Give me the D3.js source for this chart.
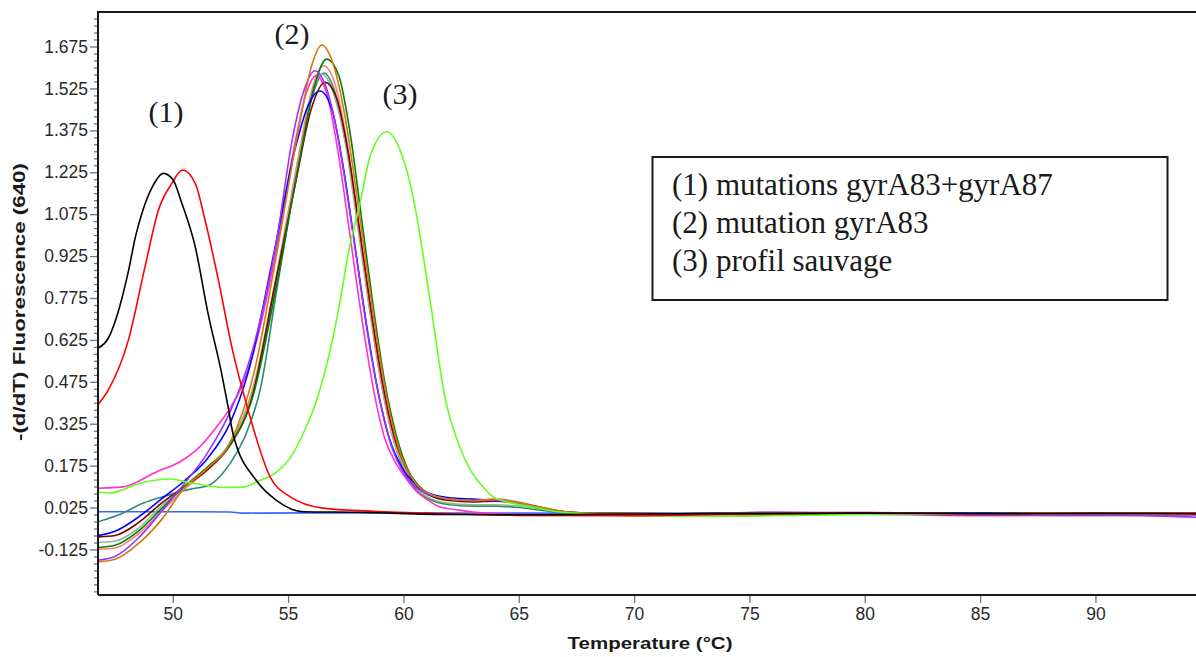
<!DOCTYPE html>
<html><head><meta charset="utf-8">
<script src="https://cdn.jsdelivr.net/npm/d3@7"></script>
<style>body{margin:0;background:#fff}</style>
</head><body>
<svg id="c" width="1196" height="657"></svg>
<script>
// ---- data ----
const xTicks = [50, 55, 60, 65, 70, 75, 80, 85, 90];
const yTicks = [-0.125, 0.025, 0.175, 0.325, 0.475, 0.625, 0.775, 0.925, 1.075, 1.225, 1.375, 1.525, 1.675];
const yTickLabels = ["-0.125", "0.025", "0.175", "0.325", "0.475", "0.625", "0.775", "0.925", "1.075", "1.225", "1.375", "1.525", "1.675"];
const xDomain = [46.76, 94.36];
const yDomain = [-0.288, 1.7985];
const xTitle = "Temperature (°C)";
const yTitle = "-(d/dT) Fluorescence (640)";
const legendLines = ["(1) mutations gyrA83+gyrA87", "(2) mutation gyrA83", "(3) profil sauvage"];
const peakLabels = ["(1)", "(2)", "(3)"];

// series: [temperature, -(d/dT)]
const sNeg = [[46.76,0.010],[50,0.010],[52.5,0.009],[53,0.005],[56,0.006],[60,0.006],[65,0.005],[70,0.004],[75,0.005],[80,0.006],[85,0.004],[90,0.005],[94.36,0.005]];
const sTeal = [[46.76,-0.026],[47.8,0.004],[48.7,0.040],[49.85,0.070],[50.72,0.090],[51.59,0.106],[52.17,0.148],[52.76,0.219],[53.19,0.291],[53.8,0.45],[54.5,0.80],[55.5,1.28],[56.0,1.48],[56.55,1.58],[57.0,1.52],[57.5,1.34],[58.0,1.06],[58.5,0.76],[59.0,0.49],[59.5,0.29],[60.0,0.165],[60.5,0.095],[61.0,0.06],[62.0,0.035],[63.0,0.03],[64.0,0.03],[65.0,0.025],[66.0,0.015],[67.0,0.006],[68.5,0.003],[72,0.001],[76,0.004],[80,0.003],[84,0.002],[88,0.005],[92,0.004],[94.36,0.003]];
const sGrayGreen = [[46.76,-0.100],[47.5,-0.095],[48.5,-0.05],[49.5,0.03],[50.5,0.095],[51.5,0.165],[52.5,0.26],[53.5,0.46],[54.5,0.86],[55.5,1.30],[56.0,1.50],[56.46,1.576],[57.0,1.50],[57.5,1.32],[58.0,1.04],[58.5,0.75],[59.0,0.49],[59.5,0.29],[60.0,0.17],[60.5,0.10],[61.0,0.065],[62.0,0.04],[63.0,0.035],[64.0,0.035],[65.0,0.03],[66.0,0.02],[67.0,0.008],[68.5,0.003],[72,0.002],[76,0.003],[80,0.001],[84,0.004],[88,0.003],[92,0.005],[94.36,0.004]];
const sSalmon = [[46.76,-0.125],[47.5,-0.12],[48.5,-0.07],[49.5,0.01],[50.5,0.09],[51.5,0.16],[52.5,0.25],[53.5,0.45],[54.5,0.85],[55.5,1.30],[56.0,1.51],[56.53,1.606],[57.0,1.55],[57.5,1.36],[58.0,1.07],[58.5,0.77],[59.0,0.50],[59.5,0.30],[60.0,0.18],[60.5,0.11],[61.0,0.075],[62.0,0.055],[63.0,0.05],[64.0,0.055],[65.0,0.045],[66.0,0.025],[67.0,0.01],[68.5,0.004],[72,0.0],[76,0.002],[80,0.006],[84,0.004],[88,0.003],[92,0.006],[94.36,0.005]];
const sMagenta = [[46.76,0.094],[47.85,0.099],[49.31,0.153],[50.32,0.189],[51.18,0.243],[51.91,0.314],[52.48,0.380],[53.0,0.46],[53.5,0.58],[54.5,0.95],[55.3,1.33],[55.8,1.51],[56.2,1.57],[56.7,1.50],[57.2,1.28],[57.7,0.99],[58.2,0.70],[58.7,0.45],[59.2,0.27],[59.7,0.18],[60.2,0.12],[60.6,0.08],[61.0,0.055],[61.5,0.03],[62.5,0.015],[63.5,0.005],[65,0.0],[70,-0.003],[75,0.002],[80,0.001],[85,-0.004],[90,-0.003],[94.36,-0.002]];
const sMaroon = [[46.76,-0.080],[47.5,-0.075],[48.5,-0.03],[49.5,0.04],[50.5,0.10],[51.5,0.16],[52.5,0.25],[53.41,0.411],[54.42,0.817],[55.3,1.176],[56.0,1.45],[56.6,1.547],[57.1,1.49],[57.6,1.30],[58.1,1.02],[58.6,0.73],[59.1,0.47],[59.6,0.28],[60.1,0.17],[60.6,0.10],[61.1,0.07],[62.0,0.05],[63.0,0.045],[64.0,0.048],[65.0,0.04],[66.0,0.022],[67.0,0.01],[68.5,0.004],[72,0.003],[76,0.007],[80,0.005],[84,0.0],[88,0.001],[92,0.004],[94.36,0.004]];
const sDarkGreen = [[46.76,-0.118],[47.5,-0.11],[48.5,-0.06],[49.5,0.02],[50.5,0.10],[51.5,0.17],[52.5,0.25],[53.5,0.43],[54.5,0.82],[55.5,1.27],[56.1,1.52],[56.67,1.63],[57.2,1.57],[57.7,1.36],[58.2,1.05],[58.7,0.74],[59.2,0.47],[59.7,0.28],[60.2,0.16],[60.7,0.10],[61.2,0.07],[62.0,0.055],[63.0,0.05],[64.0,0.052],[65.0,0.042],[66.0,0.025],[67.0,0.01],[68.5,0.004],[72,0.002],[76,-0.002],[80,0.004],[84,0.006],[88,0.006],[92,0.005],[94.36,0.004]];
const sBlue = [[46.76,-0.075],[47.5,-0.06],[48.5,-0.01],[49.5,0.055],[50.5,0.12],[51.5,0.20],[52.5,0.33],[53.26,0.506],[54.42,0.949],[55.3,1.307],[55.9,1.47],[56.38,1.516],[56.9,1.45],[57.4,1.24],[57.9,0.96],[58.4,0.68],[58.9,0.44],[59.4,0.27],[60.0,0.16],[60.5,0.11],[61.0,0.08],[62.0,0.06],[63.0,0.055],[64.0,0.05],[65.0,0.04],[66.0,0.02],[67.0,0.008],[68.5,0.004],[72,0.003],[76,0.006],[80,0.007],[84,0.005],[88,0.004],[92,0.004],[94.36,0.004]];
const sPurple = [[46.76,-0.163],[47.5,-0.150],[48.5,-0.085],[49.5,0.01],[50.5,0.11],[51.5,0.22],[52.5,0.37],[53.5,0.60],[54.5,0.98],[55.2,1.35],[55.7,1.52],[56.16,1.588],[56.6,1.54],[57.0,1.42],[57.5,1.18],[58.0,0.90],[58.5,0.62],[59.0,0.40],[59.5,0.24],[60.0,0.15],[60.5,0.10],[61.0,0.075],[62.0,0.055],[63.0,0.05],[64.0,0.05],[65.0,0.04],[66.0,0.022],[67.0,0.01],[68.5,0.004],[72,0.002],[76,0.008],[80,0.006],[84,0.0],[88,-0.003],[92,-0.004],[94.36,-0.010]];
const sOrange = [[46.76,-0.169],[47.5,-0.160],[48.5,-0.105],[49.5,-0.02],[50.5,0.095],[51.5,0.165],[52.5,0.26],[53.5,0.50],[54.5,0.93],[55.5,1.40],[56.0,1.60],[56.46,1.68],[57.0,1.60],[57.5,1.41],[58.0,1.13],[58.5,0.83],[59.0,0.55],[59.5,0.33],[60.0,0.19],[60.5,0.115],[61.0,0.08],[62.0,0.055],[63.0,0.05],[64.0,0.055],[65.0,0.042],[66.0,0.025],[67.0,0.01],[68.5,0.004],[72,0.003],[76,0.006],[80,0.004],[84,0.001],[88,0.006],[92,0.005],[94.36,0.004]];
const sLime = [[46.76,0.080],[47.28,0.077],[48.58,0.112],[49.88,0.127],[50.75,0.114],[52.19,0.097],[53.06,0.098],[53.64,0.117],[54.51,0.153],[55.08,0.201],[55.66,0.291],[56.24,0.410],[56.83,0.59],[57.27,0.77],[57.6,0.93],[58.12,1.114],[58.55,1.28],[59.28,1.370],[59.85,1.305],[60.29,1.185],[60.58,1.066],[61.15,0.77],[61.8,0.42],[62.45,0.24],[62.9,0.16],[63.32,0.112],[63.88,0.064],[64.5,0.045],[65.5,0.028],[66.5,0.012],[68,0.002],[70,-0.005],[74,-0.006],[80,0.0],[85,0.002],[90,0.003],[94.36,0.003]];
const sRed = [[46.76,0.393],[47.21,0.446],[48.08,0.625],[48.8,0.887],[49.38,1.090],[49.96,1.185],[50.42,1.233],[50.97,1.186],[51.4,1.054],[51.98,0.839],[52.56,0.600],[53.28,0.370],[54.22,0.135],[55.08,0.064],[56.51,0.023],[58.68,0.012],[62,0.003],[65,-0.003],[70,-0.004],[75,0.002],[80,0.006],[85,0.003],[90,0.004],[94.36,0.004]];
const sBlack = [[46.76,0.596],[47.2,0.63],[47.57,0.708],[48.06,0.864],[48.4,1.00],[48.71,1.09],[49.1,1.17],[49.59,1.221],[50.0,1.20],[50.39,1.115],[50.97,0.96],[51.53,0.72],[52.12,0.505],[52.4,0.385],[52.61,0.29],[53.64,0.12],[54.51,0.05],[55.65,0.010],[58,0.008],[62,0.0],[66,-0.001],[70,0.002],[75,0.004],[80,0.005],[85,0.003],[90,0.004],[94.36,0.003]];

const seriesList = [
  {data: sNeg, color: "#3366ff"},
  {data: sTeal, color: "#2a8c78"},
  {data: sGrayGreen, color: "#8fbc8f"},
  {data: sSalmon, color: "#ff8080"},
  {data: sMagenta, color: "#ff33cc"},
  {data: sMaroon, color: "#800000"},
  {data: sDarkGreen, color: "#008000"},
  {data: sBlue, color: "#0000ff"},
  {data: sPurple, color: "#9933ff"},
  {data: sOrange, color: "#d07a14"},
  {data: sLime, color: "#66ff22"},
  {data: sRed, color: "#ff0000"},
  {data: sBlack, color: "#000000"}
];

// ---- layout ----
const L = 98, T = 12, R = 1196, B = 595;
const svg = d3.select("#c");
const x = d3.scaleLinear().domain(xDomain).range([L, R]);
const y = d3.scaleLinear().domain(yDomain).range([B, T]);

svg.append("rect").attr("width", 1196).attr("height", 657).attr("fill", "#fff");

svg.append("defs").append("clipPath").attr("id", "clip")
  .append("rect").attr("x", L + 1).attr("y", T + 1).attr("width", R - L).attr("height", B - T - 2);

// y axis major ticks & labels
const tickColor = "#5e7c7c";
const yAxis = d3.axisLeft(y).tickValues(yTicks).tickSize(8)
  .tickFormat((d, i) => yTickLabels[i]);
const gy = svg.append("g").attr("transform", `translate(${L},0)`).call(yAxis);
gy.select(".domain").remove();
gy.selectAll("line").attr("stroke", tickColor).attr("stroke-width", 1.3);
gy.selectAll("text").attr("font-family", "Liberation Sans, Arial, sans-serif")
  .attr("font-size", 17.5).attr("fill", "#2a2a2a").attr("x", -10);

// minor y ticks
const minor = d3.range(-0.275, 1.80, 0.025).filter(v => yTicks.every(t => Math.abs(t - v) > 1e-6));
const yMinor = d3.axisLeft(y).tickValues(minor).tickSize(4).tickFormat("");
const gym = svg.append("g").attr("transform", `translate(${L},0)`).call(yMinor);
gym.select(".domain").remove();
gym.selectAll("line").attr("stroke", tickColor).attr("stroke-width", 1.3);

// x axis
const xAxis = d3.axisBottom(x).tickValues(xTicks).tickSize(8).tickFormat(d3.format("d"));
const gx = svg.append("g").attr("transform", `translate(0,${B})`).call(xAxis);
gx.select(".domain").remove();
gx.selectAll("line").attr("stroke", tickColor).attr("stroke-width", 1.3);
gx.selectAll("text").attr("font-family", "Liberation Sans, Arial, sans-serif")
  .attr("font-size", 17.5).attr("fill", "#2a2a2a").attr("y", 13);

// curves
const line = d3.line().x(d => x(d[0])).y(d => y(d[1])).curve(d3.curveMonotoneX);
const gl = svg.append("g").attr("clip-path", "url(#clip)");
gl.selectAll("path").data(seriesList).join("path")
  .attr("d", d => line(d.data))
  .attr("fill", "none")
  .attr("stroke", d => d.color)
  .attr("stroke-width", 1.6);

// frame
svg.append("path")
  .attr("d", `M${L},${B}V${T}H${R + 5}M${L},${B}H${R + 5}`)
  .attr("fill", "none").attr("stroke", "#1a1a1a").attr("stroke-width", 2);

// axis titles
svg.append("text").text(xTitle)
  .attr("x", 650).attr("y", 649).attr("text-anchor", "middle")
  .attr("font-family", "Liberation Sans, Arial, sans-serif").attr("font-weight", "bold")
  .attr("font-size", 17).attr("fill", "#1a1a1a")
  .attr("textLength", 165).attr("lengthAdjust", "spacingAndGlyphs");
svg.append("text").text(yTitle)
  .attr("transform", "translate(25,302) rotate(-90)").attr("text-anchor", "middle")
  .attr("font-family", "Liberation Sans, Arial, sans-serif").attr("font-weight", "bold")
  .attr("font-size", 17).attr("fill", "#1a1a1a")
  .attr("textLength", 278).attr("lengthAdjust", "spacingAndGlyphs");

// peak annotations
const serif = "Liberation Serif, Times New Roman, serif";
const annot = [[166, 122], [292, 44], [400, 104]];
svg.selectAll("text.pk").data(peakLabels).join("text").attr("class", "pk")
  .text(d => d)
  .attr("x", (d, i) => annot[i][0]).attr("y", (d, i) => annot[i][1])
  .attr("text-anchor", "middle").attr("font-family", serif)
  .attr("font-size", 30).attr("fill", "#1a1a1a");

// legend box
svg.append("rect").attr("x", 652.5).attr("y", 157).attr("width", 515).attr("height", 143)
  .attr("fill", "#fff").attr("stroke", "#1a1a1a").attr("stroke-width", 2);
svg.selectAll("text.lg").data(legendLines).join("text").attr("class", "lg")
  .text(d => d)
  .attr("x", 672).attr("y", (d, i) => 195 + i * 38)
  .attr("font-family", serif).attr("font-size", 31).attr("fill", "#1a1a1a");
</script>
</body></html>
